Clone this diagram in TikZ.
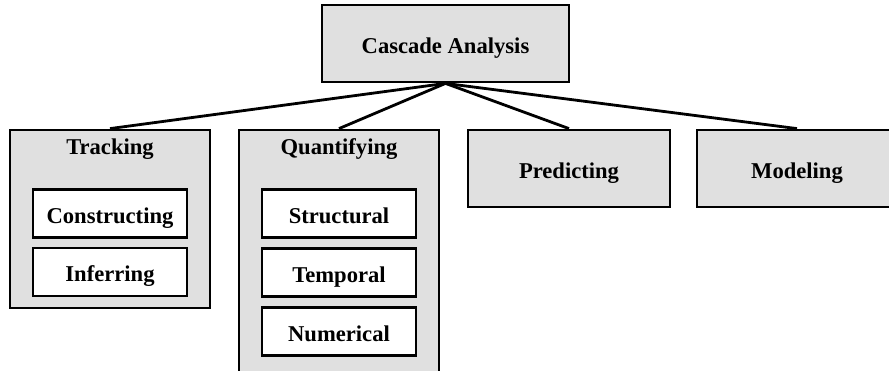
\documentclass[tikz,border=0pt]{standalone}
\usepackage{fontspec}
\setmainfont{Liberation Serif}
\usepackage{xcolor}
\usepackage{tikz}
\usetikzlibrary{positioning}
\definecolor{boxgray}{RGB}{224,224,224}

\begin{document}
\begin{tikzpicture}[
  x=1pt, y=-1pt,
  topic/.style={
    rectangle, draw=black, line width=2.8pt, fill=boxgray,
    font=\fontsize{22.6}{26}\selectfont\bfseries, inner sep=0pt,
    text height=20pt, text depth=1pt
  },
  group/.style 2 args={
    topic, minimum width=200pt, minimum height=#1,
    label={[font=\fontsize{22.6}{26}\selectfont\bfseries, anchor=north,
            inner sep=0pt, text height=15pt, yshift=-10.7pt]north:#2}
  },
  sub/.style={
    rectangle, draw=black, line width=2.8pt, fill=white,
    font=\fontsize{22.6}{26}\selectfont\bfseries,
    minimum width=154pt, minimum height=48pt, inner sep=0pt,
    text height=20pt, text depth=1pt
  },
  branch/.style={line width=2.8pt, draw=black}
]
\useasboundingbox (0,0) rectangle (889,370);
\node[topic, minimum width=247pt, minimum height=77pt]
  (cascade) at (445.5,43.5) {Cascade Analysis};
\node[group={178pt}{Tracking}] (track) at (110,219) {};
\node[group={250pt}{Quantifying}] (quant) at (339,255) {};
\node[topic, minimum width=202pt, minimum height=77pt]
  (predict) at (569,168.5) {Predicting};
\node[topic, minimum width=200pt, minimum height=77pt]
  (model) at (797,168.5) {Modeling};
% sub-tasks
\node[sub] (construct) at (110,213.5) {Constructing};
\node[sub] (infer) at (110,272) {Inferring};
\node[sub] (struct) at (339,213.5) {Structural};
\node[sub] (temporal) at (339,272.5) {Temporal};
\node[sub] (numeric) at (339,331.5) {Numerical};
% branches
\foreach \t in {track, quant, predict, model}
  \draw[branch] (cascade.south) -- (\t.north);
\end{tikzpicture}
\end{document}
